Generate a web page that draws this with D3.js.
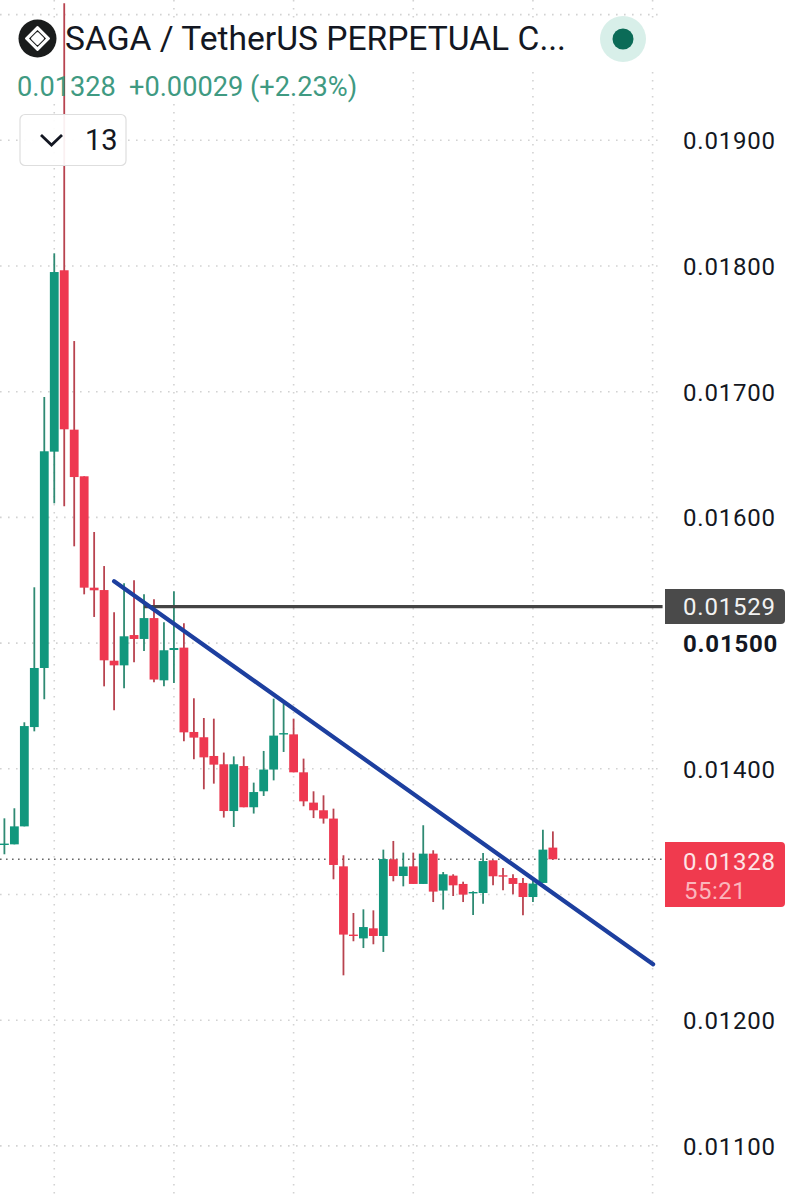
<!DOCTYPE html>
<html>
<head>
<meta charset="utf-8">
<script src="https://cdn.jsdelivr.net/npm/d3@7"></script>
<style>
html,body{margin:0;padding:0;background:#fff;}
svg{display:block;font-family:Roboto,sans-serif;}
</style>
</head>
<body>
<div id="chart"></div>
<script>
const tickLabels = [0.011,0.012,0.013,0.014,0.015,0.016,0.017,0.018,0.019,0.020];
const hiddenTicks = [0.013,0.020];
const boldTick = 0.015;
const gridIndexes = [5,17,29,41,53,65];
const opens = [0.013395,0.013399,0.013542,0.014332,0.014802,0.016523,0.017966,0.016698,0.016327,0.015441,0.015422,0.014860,0.014823,0.015064,0.015033,0.015199,0.014704,0.014945,0.014964,0.014293,0.014251,0.014102,0.014036,0.013664,0.014022,0.013694,0.013821,0.013994,0.014276,0.014274,0.013972,0.013731,0.013670,0.013604,0.013224,0.012681,0.012651,0.012731,0.012670,0.013280,0.013147,0.013224,0.013084,0.013325,0.013031,0.013150,0.013084,0.013012,0.013012,0.013272,0.013153,0.013131,0.013092,0.012980,0.013092,0.013373];
const highs = [0.013606,0.013686,0.014370,0.015444,0.016958,0.018101,0.020090,0.017403,0.016327,0.015884,0.015613,0.015245,0.015476,0.015500,0.015388,0.015348,0.015165,0.015412,0.015158,0.014561,0.014404,0.014399,0.014129,0.014099,0.014099,0.013890,0.014142,0.014558,0.014521,0.014399,0.014081,0.013821,0.013789,0.013683,0.013312,0.012853,0.012882,0.012874,0.013357,0.013426,0.013333,0.013333,0.013551,0.013352,0.013179,0.013161,0.013102,0.013025,0.013330,0.013272,0.013211,0.013161,0.013131,0.013113,0.013516,0.013502];
const lows = [0.013320,0.013399,0.013542,0.014298,0.014553,0.016112,0.016088,0.015770,0.015388,0.015208,0.014656,0.014465,0.014640,0.014847,0.014937,0.014688,0.014656,0.014683,0.014219,0.014076,0.013837,0.013882,0.013612,0.013537,0.013694,0.013644,0.013784,0.013908,0.014134,0.013972,0.013702,0.013608,0.013564,0.013121,0.012357,0.012628,0.012574,0.012604,0.012543,0.013105,0.013065,0.013084,0.013084,0.012940,0.012880,0.012988,0.012940,0.012837,0.012927,0.013073,0.013033,0.013002,0.012834,0.012940,0.013092,0.013280];
const closes = [0.013405,0.013542,0.014340,0.014802,0.016526,0.017952,0.016701,0.016321,0.015441,0.015420,0.014863,0.014823,0.015054,0.015033,0.015199,0.014710,0.014943,0.014961,0.014290,0.014248,0.014091,0.014033,0.013664,0.014036,0.013694,0.013815,0.013994,0.014264,0.014284,0.013972,0.013741,0.013670,0.013604,0.013235,0.012681,0.012670,0.012741,0.012670,0.013282,0.013147,0.013222,0.013084,0.013325,0.013023,0.013161,0.013073,0.012999,0.013020,0.013266,0.013145,0.013142,0.013084,0.012980,0.013087,0.013357,0.013280];
const trendX = [11,65.05];
const trendY = [0.015492,0.012445];
const levelX = [14,66];
const levelPrice = 0.01529;
const lastPrice = 0.01328;

const width = 812, height = 1200;
const svg = d3.select("#chart").append("svg").attr("width",width).attr("height",height);
const y = d3.scaleLinear().domain([0.018,0.011]).range([266,1145.9]);
const x = d3.scaleLinear().domain([0,65]).range([4.4,652.6]);
const fmt = d3.format(".5f");
const UP = "#11977d", DOWN = "#ee3850", UPW="#2f8a73", DOWNW="#b8434f";

const grid = svg.append("g").attr("stroke","#d2d2d2").attr("stroke-width",1.6).attr("stroke-dasharray","1.6 6.4");
grid.selectAll("line.h").data(tickLabels).join("line").attr("class","h")
  .attr("x1",0).attr("x2",664).attr("y1",d=>y(d)).attr("y2",d=>y(d));
grid.selectAll("line.v").data(gridIndexes).join("line").attr("class","v")
  .attr("x1",d=>x(d)).attr("x2",d=>x(d)).attr("y1",0).attr("y2",height);

// header backdrop hides the grid behind the legend rows
svg.append("rect").attr("x",0).attr("y",18).attr("width",656).attr("height",50).attr("fill","#fff");
svg.append("rect").attr("x",0).attr("y",68).attr("width",362).attr("height",36).attr("fill","#fff");

svg.append("line").attr("x1",0).attr("x2",664).attr("y1",y(lastPrice)).attr("y2",y(lastPrice))
  .attr("stroke","#666").attr("stroke-width",1.6).attr("stroke-dasharray","1.6 4.4");

const c = opens.map((o,i)=>({i,o,h:highs[i],l:lows[i],c:closes[i]}));
const candles = svg.append("g");
candles.selectAll("line").data(c).join("line")
  .attr("x1",d=>x(d.i)).attr("x2",d=>x(d.i)).attr("y1",d=>y(d.h)).attr("y2",d=>y(d.l))
  .attr("stroke",d=>d.c>=d.o?UPW:DOWNW).attr("stroke-width",1.8);
candles.selectAll("rect").data(c).join("rect")
  .attr("x",d=>x(d.i)-4.4).attr("width",8.8)
  .attr("y",d=>y(Math.max(d.o,d.c)))
  .attr("height",d=>Math.max(1.4,Math.abs(y(d.o)-y(d.c))))
  .attr("fill",d=>d.c>=d.o?UP:DOWN);

svg.append("line").attr("x1",x(levelX[0])).attr("x2",x(levelX[1])).attr("y1",y(levelPrice)).attr("y2",y(levelPrice))
  .attr("stroke","#444").attr("stroke-width",3.4);
svg.append("line").attr("x1",x(trendX[0])).attr("x2",x(trendX[1])).attr("y1",y(trendY[0])).attr("y2",y(trendY[1]))
  .attr("stroke","#1d3f9f").attr("stroke-width",4.2).attr("stroke-linecap","round");

// price axis
const labels = tickLabels.filter(t=>!hiddenTicks.includes(t));
svg.append("g").selectAll("text").data(labels).join("text")
  .attr("x",683).attr("y",d=>y(d)+8.8)
  .attr("font-size",24).attr("letter-spacing",0.8)
  .attr("font-weight",d=>d===boldTick?700:400)
  .attr("fill","#131722").text(d=>fmt(d));

// level tag
function tag(yTop,h,fill){
  svg.append("path").attr("fill",fill)
   .attr("d",`M665,${yTop}H781a4,4 0 0 1 4,4V${yTop+h-4}a4,4 0 0 1 -4,4H665Z`);
}
tag(589,35,"#4a4a4a");
svg.append("text").attr("x",683).attr("y",y(levelPrice)+8.8).attr("font-size",24).attr("letter-spacing",0.8).attr("fill","#f2f2f2").text(fmt(levelPrice));
tag(842,65,"#f03a4e");
svg.append("text").attr("x",683).attr("y",870).attr("font-size",24).attr("letter-spacing",0.8).attr("fill","#fde4e6").text(fmt(lastPrice));
svg.append("text").attr("x",684).attr("y",899).attr("font-size",24).attr("letter-spacing",0.5).attr("fill","#fbb6bc").text("55:21");

// header
const hdr = svg.append("g");
hdr.append("circle").attr("cx",37.5).attr("cy",38.5).attr("r",19).attr("fill","#1a1c1c");
hdr.append("path").attr("d","M37.5,27 L49,38.5 L37.5,50 L26,38.5Z").attr("fill","#fff").attr("stroke","#fff").attr("stroke-width",2).attr("stroke-linejoin","round");
hdr.append("path").attr("d","M37.5,30 L46,38.5 L37.5,47 L29,38.5Z").attr("fill","#1a1c1c");
hdr.append("path").attr("d","M37.5,33.5 L42.5,38.5 L37.5,43.5 L32.5,38.5Z").attr("fill","#fff").attr("stroke","#fff").attr("stroke-width",3).attr("stroke-linejoin","round");
hdr.append("text").attr("x",65).attr("y",50).attr("font-size",33.6).attr("fill","#131722").text("SAGA / TetherUS PERPETUAL C...");
hdr.append("text").attr("x",17).attr("y",96).attr("font-size",27.2).attr("fill","#3f9a82").text("0.01328");
hdr.append("text").attr("x",129).attr("y",96).attr("font-size",27.2).attr("fill","#3f9a82").text("+0.00029 (+2.23%)");
hdr.append("circle").attr("cx",623).attr("cy",39).attr("r",23).attr("fill","#d8efe9");
hdr.append("circle").attr("cx",623).attr("cy",39).attr("r",10.5).attr("fill","#0b6b57");
hdr.append("rect").attr("x",20).attr("y",114.5).attr("width",106).attr("height",51).attr("rx",5)
  .attr("fill","#fff").attr("fill-opacity",0.92).attr("stroke","#dedede").attr("stroke-width",1.2);
hdr.append("path").attr("d","M41,135 L51.5,145 L62,135").attr("fill","none").attr("stroke","#131722").attr("stroke-width",2.8);
hdr.append("text").attr("x",85).attr("y",150).attr("font-size",29).attr("fill","#131722").text("13");
</script>
</body>
</html>
